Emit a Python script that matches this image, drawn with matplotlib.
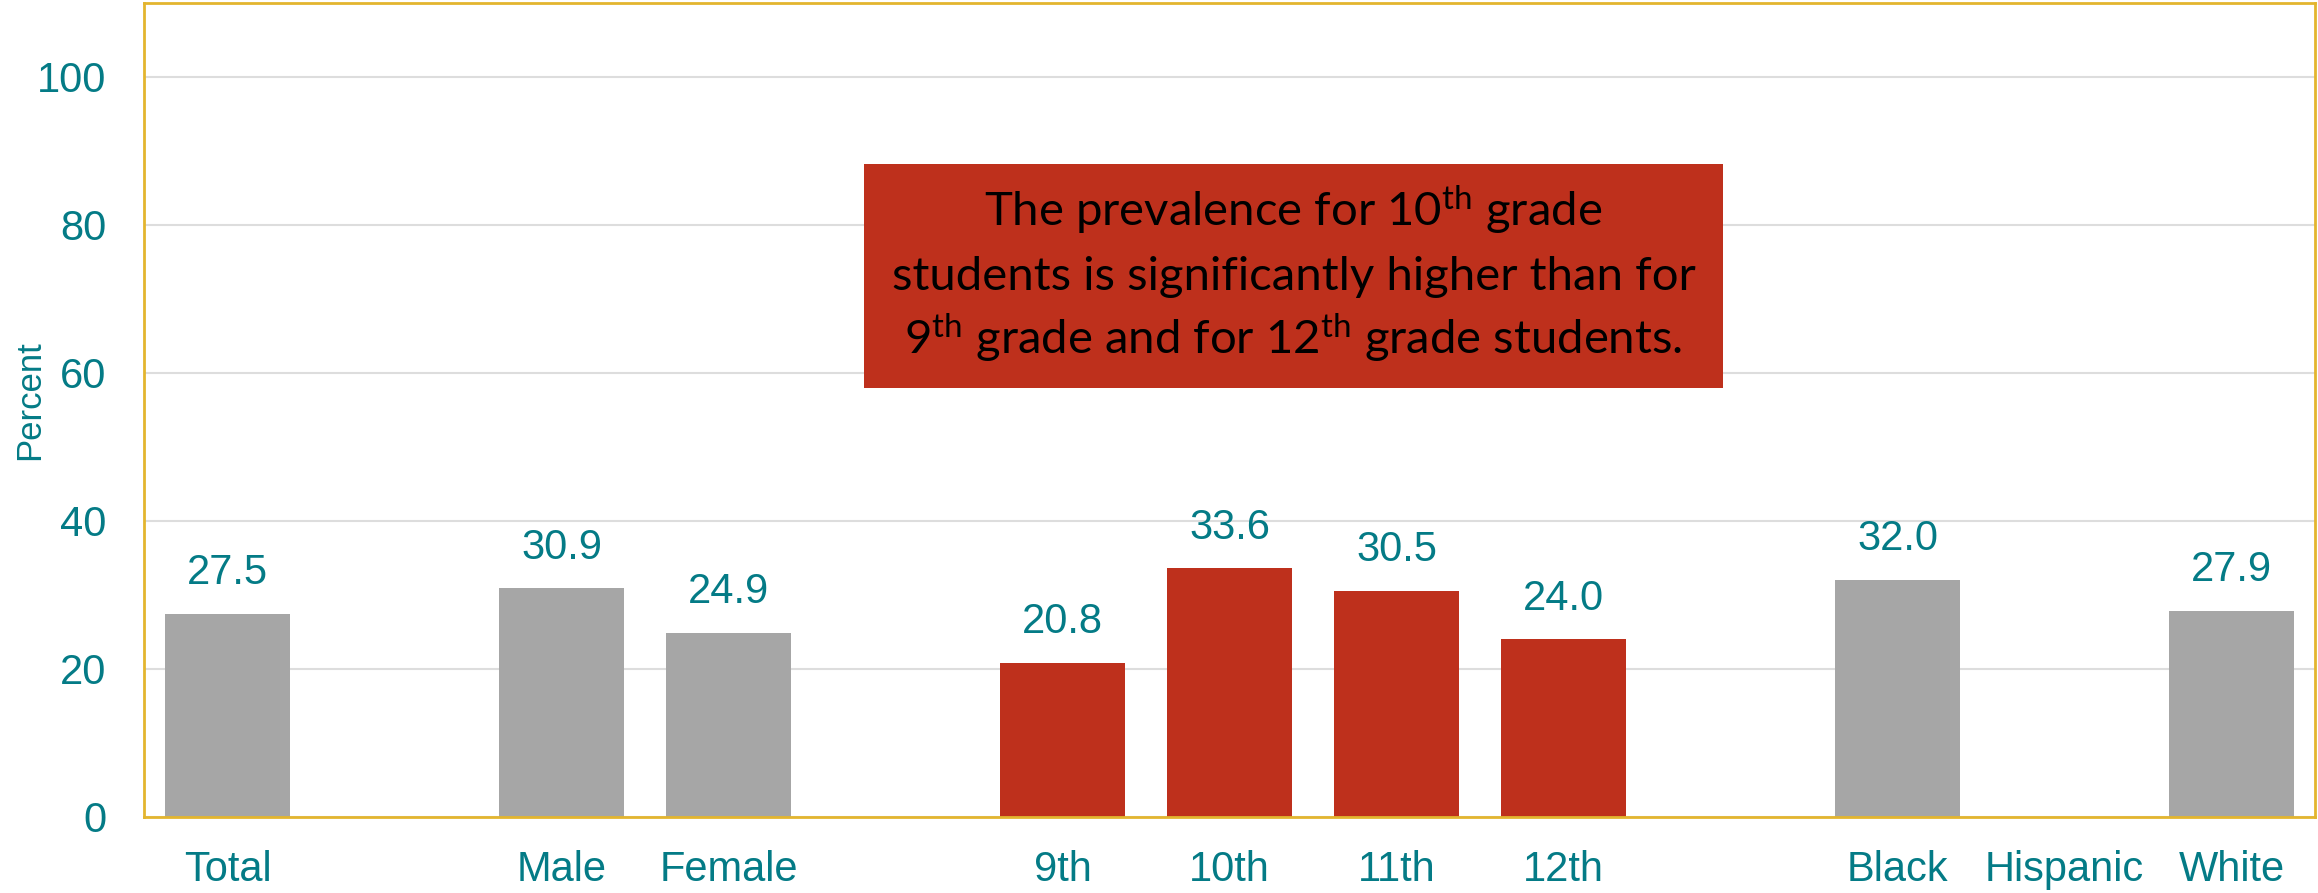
import numpy as np
import matplotlib.pyplot as plt
from matplotlib.patches import Rectangle

plt.rcParams['font.family'] = ['Liberation Sans', 'DejaVu Sans']
plt.rcParams['mathtext.fontset'] = 'custom'
plt.rcParams['mathtext.rm'] = 'Lato'
plt.rcParams['mathtext.it'] = 'Lato'

# Kategori (slot kosong sebagai pemisah kelompok)
categories = ['Total', '', 'Male', 'Female', '', '9th', '10th', '11th', '12th', '', 'Black', 'Hispanic', 'White']
values = [27.5, np.nan, 30.9, 24.9, np.nan, 20.8, 33.6, 30.5, 24.0, np.nan, 32.0, np.nan, 27.9]
highlight = ['9th', '10th', '11th', '12th']

GRAY = '#A6A6A6'
RED = '#BE301C'
TEAL = '#047B86'
GOLD = '#E3B52F'

fig = plt.figure(figsize=(23.18, 8.93), dpi=100)
ax = fig.add_axes([144 / 2318, 1 - 817 / 893, (2315 - 144) / 2318, (817 - 3) / 893])

x = np.arange(len(categories))
colors = [RED if c in highlight else GRAY for c in categories]
vals = np.nan_to_num(values, nan=0.0)
bars = ax.bar(x, vals, width=0.75, color=colors, zorder=2)

for xi, v in zip(x, values):
    if not np.isnan(v):
        ax.annotate(f"{v:.1f}", (xi, v), xytext=(0, 15), textcoords='offset points',
                    ha='center', va='bottom', fontsize=30, color=TEAL)

ax.set_xlim(-0.5, len(categories) - 0.5)
ax.set_ylim(0, 110)
ax.set_yticks([0, 20, 40, 60, 80, 100])
ax.set_xticks(x)
ax.set_xticklabels(categories)
ax.tick_params(axis='both', length=0, labelsize=30, labelcolor=TEAL)
ax.tick_params(axis='x', pad=24)
ax.tick_params(axis='y', pad=27)
ax.grid(axis='y', color='#DDDDDD', linewidth=1.5, zorder=0)
ax.set_axisbelow(True)
for s in ax.spines.values():
    s.set_color(GOLD)
    s.set_linewidth(2)

fig.text(30 / 2318, 1 - 400 / 893, 'Percent', rotation=90, ha='center', va='center',
         fontsize=25, color=TEAL)

# Kotak keterangan
bx0, bx1, by0, by1 = 864, 1723, 164, 388
fig.patches.append(Rectangle((bx0 / 2318, 1 - by1 / 893), (bx1 - bx0) / 2318, (by1 - by0) / 893,
                             transform=fig.transFigure, facecolor=RED, edgecolor='none', zorder=5))
note_lines = [r"The prevalence for 10$^{\mathrm{th}}$ grade",
              "students is significantly higher than for",
              r"9$^{\mathrm{th}}$ grade and for 12$^{\mathrm{th}}$ grade students."]
for i, line in enumerate(note_lines):
    fig.text(1293.5 / 2318, 1 - (226 + 64 * i) / 893, line, ha='center', va='baseline',
             fontsize=34, color='black', family=['Lato', 'DejaVu Sans'], zorder=6)

fig.savefig('out.png', dpi=100)
